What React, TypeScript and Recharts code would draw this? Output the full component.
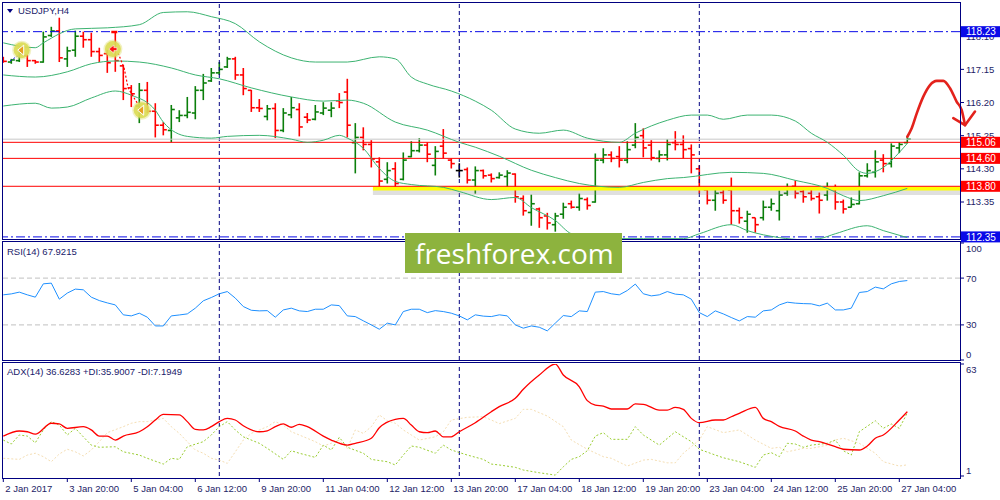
import React from "react";
import { ComposedChart, Bar, Line, XAxis, YAxis, ReferenceLine } from "recharts";

const NAVY = "#000080";
const AXIS_TEXT = "#1d1d66";
const FONT = "'Liberation Sans', Arial, sans-serif";
const UP = "#0b7f0b";
const DOWN = "#ff0000";
const FLAT = "#000000";
const BAND = "#3cb371";
const LEVEL_RED = "#ff0000";
const RANGE_BLUE = "#0a0ae8";

// bar index domain: MT4 draws 8px per H4 bar
const X_DOMAIN: [number, number] = [-0.1625, 119.5875];
const X_DOMAIN_WIDE: [number, number] = [-0.1625, 124.5875];
const PRICE_DOMAIN: [number, number] = [112.29, 119.08];
const RSI_DOMAIN: [number, number] = [0, 100];
const ADX_DOMAIN: [number, number] = [1, 63];

type Pair = [number, number];

const opens = [
  117.48, 117.36, 117.4, 117.55, 117.4, 117.36, 118.12, 118.25, 117.45, 117.7,
  118.1, 118.0, 117.66, 117.6, 117.72, 117.25, 116.62, 116.1, 116.55, 115.95,
  115.55, 115.4, 115.76, 115.83, 115.9, 116.55, 116.82, 117.05, 117.22, 117.45,
  116.99, 116.55, 116.05, 115.8, 116.03, 115.4, 115.85, 116.0, 115.78, 115.72,
  115.9, 115.98, 116.25, 116.5, 115.05, 115.2, 115.0, 114.5, 114.0, 114.3,
  114.0, 114.65, 114.82, 114.98, 114.4, 114.95, 114.55, 114.25, 114.28, 113.98,
  114.25, 114.12, 114.05, 114.08, 114.15, 113.45, 113.05, 113.15, 112.95, 112.7,
  113.0, 113.3, 113.2, 113.42, 113.35, 114.55, 114.7, 114.65, 114.55, 114.98,
  115.25, 114.98, 114.6, 114.7, 115.05, 115.0, 114.88, 114.3, 113.7, 113.4,
  113.62, 113.7, 113.1, 112.8, 112.9, 112.9, 113.2, 113.1, 113.6, 113.8,
  113.65, 113.6, 113.5, 113.55, 113.7, 113.35, 113.2, 113.3, 114.1, 114.2,
  114.55, 114.45, 114.9, 115.05,
];
const highs = [
  117.51, 117.45, 117.71, 117.57, 117.42, 118.23, 118.37, 118.63, 117.8, 118.26,
  118.23, 118.2, 117.77, 117.71, 118.23, 117.28, 116.7, 116.76, 116.79, 116.18,
  115.64, 116.13, 115.98, 116.36, 116.67, 117.02, 117.19, 117.36, 117.51, 117.51,
  117.19, 116.56, 116.3, 116.13, 116.18, 116.04, 116.36, 116.18, 115.9, 116.13,
  116.21, 116.21, 116.47, 116.88, 115.61, 115.49, 115.12, 114.63, 114.49, 114.49,
  114.77, 115.09, 115.18, 115.06, 114.95, 115.44, 114.6, 114.46, 114.34, 114.37,
  114.28, 114.17, 114.2, 114.26, 114.17, 113.54, 113.56, 113.19, 113.04, 113.04,
  113.33, 113.39, 113.59, 113.48, 114.74, 114.89, 114.8, 114.95, 115.09, 115.61,
  115.46, 115.12, 114.83, 115.15, 115.38, 115.26, 115.0, 114.4, 113.76, 113.71,
  113.76, 114.05, 113.19, 113.1, 112.9, 113.39, 113.45, 113.68, 113.88, 113.97,
  113.74, 113.76, 113.62, 113.91, 113.85, 113.42, 113.48, 114.2, 114.46, 114.83,
  114.72, 115.03, 115.06, 115.23,
];
const lows = [
  117.34, 117.31, 117.36, 117.22, 117.31, 117.34, 118.08, 117.36, 117.22, 117.51,
  117.77, 117.51, 117.36, 117.05, 117.08, 116.27, 116.07, 115.61, 115.9, 115.2,
  115.26, 115.06, 115.64, 115.75, 115.72, 116.27, 116.79, 116.99, 117.19, 116.85,
  116.41, 115.93, 115.93, 115.69, 115.18, 115.35, 115.75, 115.23, 115.61, 115.69,
  115.84, 115.78, 116.04, 115.2, 114.17, 114.83, 114.34, 113.74, 113.88, 113.76,
  113.97, 114.63, 114.77, 114.49, 114.11, 114.6, 114.31, 114.05, 113.88, 113.59,
  114.02, 113.91, 114.02, 113.76, 113.33, 112.96, 112.67, 112.61, 112.56, 112.5,
  112.87, 113.16, 113.1, 113.13, 113.33, 114.46, 114.49, 114.34, 114.46, 114.89,
  114.63, 114.54, 114.49, 114.54, 114.83, 114.6, 114.17, 113.59, 113.28, 113.1,
  113.3, 112.7, 112.73, 112.47, 112.47, 112.82, 113.1, 112.82, 113.53, 113.45,
  113.33, 113.39, 113.02, 113.39, 113.13, 113.02, 113.19, 113.28, 114.05, 114.05,
  114.2, 114.34, 114.75, 115.03,
];
const closes = [
  117.38, 117.42, 117.62, 117.4, 117.36, 118.08, 118.25, 117.48, 117.68, 118.1,
  118.0, 117.66, 117.55, 117.34, 117.4, 116.6, 116.45, 116.55, 115.95, 115.55,
  115.42, 116.0, 115.83, 115.92, 116.55, 116.76, 117.05, 117.15, 117.45, 116.99,
  116.6, 116.05, 116.03, 116.02, 115.4, 115.9, 116.05, 115.5, 115.7, 115.93,
  116.04, 116.04, 116.2, 115.55, 115.2, 115.0, 114.58, 113.95, 114.25, 113.88,
  114.55, 114.82, 114.98, 114.72, 114.8, 114.75, 114.45, 114.25, 113.98, 114.25,
  114.1, 114.02, 114.12, 114.18, 113.5, 113.1, 113.3, 112.9, 112.75, 112.95,
  113.2, 113.2, 113.45, 113.25, 114.55, 114.7, 114.6, 114.55, 114.85, 115.2,
  114.9, 114.62, 114.7, 115.0, 115.0, 114.85, 114.7, 113.75, 113.4, 113.6,
  113.4, 113.1, 112.9, 113.0, 112.7, 113.2, 113.3, 113.55, 113.75, 113.6,
  113.5, 113.45, 113.4, 113.75, 113.35, 113.15, 113.28, 114.1, 114.25, 114.5,
  114.45, 114.95, 115.0, 115.15,
];

// Bollinger bands (20), read at bar indices
const bbUpper: Pair[] = [
  [0, 117.91], [4, 117.77], [5, 117.91], [9, 118.31], [13, 118.34], [17, 118.43],
  [20, 118.78], [23, 118.8], [26, 118.66], [29, 118.46], [32, 117.94], [36, 117.48],
  [39, 117.36], [43, 117.36], [47, 117.51], [49, 117.45], [51, 116.93], [53, 116.73],
  [56, 116.53], [59, 116.24], [61, 115.98], [64, 115.44], [67, 115.32], [70, 115.41],
  [73, 115.18], [77, 115.06], [79, 115.32], [83, 115.69], [86, 115.84], [88, 115.84],
  [90, 115.72], [93, 115.84], [96, 115.84], [99, 115.67], [101, 115.32], [103, 115.06],
  [105, 114.69], [107, 114.23], [108, 114.17], [110, 114.34], [112, 114.77], [113, 115.03],
];
const bbMiddle: Pair[] = [
  [0, 116.99], [4, 116.93], [8, 117.08], [11, 117.31], [14, 117.39], [17, 117.36],
  [21, 117.19], [24, 116.99], [27, 116.88], [31, 116.62], [36, 116.36], [40, 116.24],
  [43, 116.27], [45, 116.18], [49, 115.64], [53, 115.41], [57, 115.06], [59, 114.92],
  [62, 114.66], [66, 114.26], [69, 114.05], [72, 113.88], [77, 113.77], [80, 113.91],
  [83, 114.02], [85, 114.05], [91, 114.2], [95, 114.17], [99, 113.97], [103, 113.74],
  [105, 113.53], [107, 113.39], [110, 113.53], [113, 113.74],
];
const bbLower: Pair[] = [
  [0, 116.1], [4, 116.18], [6, 116.04], [8, 116.07], [11, 116.33], [14, 116.53],
  [16, 116.41], [19, 115.98], [20, 115.64], [23, 115.23], [26, 115.18], [28, 115.23],
  [32, 115.26], [36, 115.15], [38, 115.06], [40, 115.12], [42, 115.26], [43, 115.18],
  [45, 114.89], [47, 114.31], [49, 113.94], [51, 113.85], [55, 113.77], [57, 113.65],
  [61, 113.42], [64, 113.48], [66, 113.19], [69, 112.82], [71, 112.44], [74, 112.3],
  [80, 112.3], [85, 112.3], [87, 112.44], [91, 112.7], [93, 112.53], [97, 112.33],
  [100, 112.27], [102, 112.3], [104, 112.44], [108, 112.67], [110, 112.53], [113, 112.33],
];

const rsi14 = [
  55.7, 56.5, 58.0, 55.7, 53.7, 65.1, 65.7, 52.0, 57.2, 60.6,
  60.0, 53.7, 50.8, 48.8, 47.1, 38.6, 37.7, 40.0, 36.6, 29.1,
  29.1, 37.7, 38.5, 39.4, 44.3, 50.6, 53.4, 56.6, 58.5, 52.9,
  45.7, 42.5, 42.0, 42.2, 36.6, 42.8, 44.3, 42.0, 41.4, 43.4,
  43.4, 47.1, 46.5, 37.7, 37.1, 33.5, 30.0, 26.3, 31.5, 30.0,
  41.4, 43.4, 43.4, 40.5, 42.2, 41.4, 40.0, 37.7, 34.3, 38.6,
  37.5, 37.1, 38.6, 37.7, 30.0, 27.2, 29.1, 28.0, 24.9, 31.5,
  38.0, 37.1, 42.0, 41.4, 58.0, 58.5, 56.6, 55.7, 59.4, 64.9,
  56.6, 54.8, 55.7, 58.5, 56.3, 55.7, 52.0, 40.5, 37.1, 42.0,
  39.4, 36.3, 33.4, 37.1, 36.6, 42.0, 42.8, 47.1, 49.4, 48.6,
  48.2, 48.0, 46.3, 48.6, 42.8, 42.8, 44.3, 57.7, 58.5, 62.3,
  60.8, 65.1, 67.1, 67.9,
];

const adx14: Pair[] = [
  [0, 23.1], [2, 25.9], [3, 25.5], [4, 24.2], [6, 30.2], [7, 29.8], [8, 27.4], [10, 28.3],
  [11, 26.5], [12, 23.1], [13, 23.1], [14, 20.9], [15, 23.1], [17, 25.5], [18, 28.3],
  [19, 32.0], [20, 35.1], [22, 34.8], [23, 31.1], [24, 26.8], [25, 26.5], [26, 28.3],
  [27, 31.1], [28, 32.9], [29, 32.0], [30, 28.8], [32, 25.5], [33, 26.0], [34, 28.3],
  [35, 29.8], [36, 28.0], [37, 29.6], [38, 28.3], [40, 23.1], [41, 20.9], [43, 18.1],
  [44, 19.1], [46, 21.9], [47, 27.7], [49, 32.4], [50, 32.9], [51, 29.2], [52, 25.5],
  [53, 25.0], [54, 25.9], [55, 22.7], [56, 22.7], [57, 25.5], [59, 30.5], [61, 36.6],
  [62, 39.4], [64, 44.0], [65, 49.0], [67, 56.9], [69, 63.0], [70, 56.9], [72, 50.4],
  [73, 42.7], [74, 40.3], [75, 39.7], [76, 38.1], [78, 38.1], [79, 40.9], [80, 40.7],
  [82, 37.5], [83, 37.5], [84, 39.0], [85, 37.9], [86, 32.9], [87, 30.5], [89, 32.0],
  [90, 32.0], [91, 33.8], [92, 35.7], [94, 39.0], [95, 32.9], [96, 31.1], [97, 28.5],
  [99, 25.9], [100, 23.1], [101, 20.9], [102, 20.0], [104, 17.2], [105, 15.8], [107, 15.4],
  [108, 17.6], [109, 21.9], [110, 23.7], [112, 32.0], [113, 36.63],
];
const plusDi: Pair[] = [
  [0, 20.9], [1, 18.7], [2, 23.7], [3, 23.1], [4, 19.4], [5, 26.5], [6, 31.1], [7, 29.2],
  [8, 23.7], [9, 27.4], [10, 22.7], [11, 18.1], [12, 16.9], [14, 17.2], [15, 14.4],
  [17, 12.6], [18, 10.8], [20, 7.6], [21, 10.8], [22, 10.2], [23, 17.2], [25, 20.0],
  [26, 23.7], [27, 28.3], [28, 31.1], [29, 26.5], [30, 22.7], [32, 19.1], [33, 16.3],
  [35, 10.2], [36, 15.0], [37, 13.6], [39, 11.3], [40, 18.1], [41, 15.4], [42, 22.4],
  [43, 16.9], [45, 13.6], [46, 10.2], [48, 8.9], [49, 7.1], [50, 12.6], [51, 17.6],
  [52, 16.9], [54, 13.6], [55, 18.1], [56, 15.4], [58, 12.6], [60, 10.2], [61, 7.6],
  [62, 7.1], [64, 5.8], [65, 4.3], [67, 2.8], [69, 1.5], [70, 6.1], [71, 10.2], [72, 11.7],
  [73, 15.0], [74, 23.1], [75, 25.0], [76, 21.3], [78, 21.3], [79, 28.3], [80, 23.7],
  [82, 18.1], [84, 25.5], [86, 20.0], [87, 15.8], [89, 12.6], [90, 11.1], [92, 8.9],
  [94, 5.8], [95, 12.6], [96, 13.9], [97, 11.7], [98, 19.1], [99, 18.7], [100, 16.9],
  [101, 18.1], [103, 19.1], [104, 20.9], [105, 15.0], [106, 12.6], [107, 25.5], [109, 31.6],
  [110, 27.4], [111, 29.8], [112, 27.4], [113, 35.9],
];
const minusDi: Pair[] = [
  [0, 10.8], [2, 10.2], [3, 12.6], [4, 13.6], [5, 11.7], [6, 8.9], [7, 13.2], [8, 15.8],
  [9, 14.4], [10, 12.1], [11, 15.4], [12, 20.0], [13, 25.0], [15, 28.3], [16, 30.2],
  [17, 31.1], [18, 31.1], [20, 32.9], [21, 28.3], [22, 24.6], [23, 20.0], [24, 15.4],
  [25, 13.6], [26, 10.8], [27, 9.8], [28, 8.0], [29, 14.4], [30, 20.9], [31, 24.6],
  [32, 26.5], [33, 28.3], [34, 31.1], [35, 29.2], [36, 25.5], [37, 23.7], [39, 20.0],
  [40, 17.6], [41, 19.1], [42, 20.9], [43, 16.3], [44, 26.5], [45, 24.6], [46, 28.3],
  [47, 34.8], [48, 31.6], [49, 30.2], [50, 26.5], [51, 23.7], [52, 20.9], [54, 22.7],
  [55, 25.5], [56, 32.0], [58, 33.5], [60, 33.8], [61, 32.0], [62, 30.0], [64, 32.9],
  [65, 37.9], [66, 37.9], [68, 34.2], [70, 28.3], [71, 20.9], [73, 15.8], [75, 11.7],
  [76, 10.8], [78, 6.5], [80, 9.8], [81, 10.2], [83, 8.3], [84, 8.3], [85, 13.6],
  [87, 20.9], [88, 28.3], [90, 25.0], [92, 26.5], [94, 20.9], [96, 16.3], [97, 16.9],
  [98, 14.4], [100, 16.3], [101, 16.3], [103, 18.1], [104, 20.9], [105, 21.9], [107, 19.1],
  [109, 13.6], [110, 8.9], [112, 6.5], [113, 7.19],
];

const priceTicks = [118.1, 117.15, 116.2, 115.25, 114.3, 113.35];
const levelPrices = [115.06, 114.6, 113.8];
const rangePrices = [118.23, 112.35];
const rsiTicks = [100, 70, 30, 0];
const rsiLevels = [70, 30];
const adxTicks = [63, 1];
const weekStarts = [27, 57, 87];
const timeTicks = [0, 8, 16, 24, 32, 40, 48, 56, 64, 72, 80, 88, 96, 104, 112];
const timeLabels = [
  "2 Jan 2017", "3 Jan 20:00", "5 Jan 04:00", "6 Jan 12:00", "9 Jan 20:00",
  "11 Jan 04:00", "12 Jan 12:00", "13 Jan 20:00", "17 Jan 04:00", "18 Jan 12:00",
  "19 Jan 20:00", "23 Jan 04:00", "24 Jan 12:00", "25 Jan 20:00", "27 Jan 04:00",
];

// drawn annotations (bar index, price)
const forecastPath: Pair[] = [
  [113.0, 115.22], [113.55, 115.46], [114.18, 115.89], [115.0, 116.37], [115.84, 116.7],
  [116.68, 116.82], [117.5, 116.82], [118.34, 116.61], [119.18, 116.22], [119.8, 115.98],
  [120.21, 115.55],
];
const forecastHead: Pair[] = [[118.75, 115.75], [120.21, 115.55], [121.46, 115.94]];
const tradePath: Pair[] = [[14.35, 117.62], [15.1, 117.19], [15.6, 116.62], [16.5, 116.27], [17.1, 116.07]];
const entryPath: Pair[] = [[0.84, 117.39], [2.34, 117.62]];
const stopMark: Pair[] = [[13.5, 118.22], [14.25, 118.22]];
const markers: Pair[] = [[2.3, 117.7], [13.7, 117.73], [17.3, 115.98]];
const markerKinds = ["buy", "sell", "buy"];
const yellowZoneStart = 46.2;

const rsiTitle = "RSI(14) 67.9215";
const adxTitle = "ADX(14) 36.6283 +DI:35.9007 -DI:7.1949";
const symbolTitle = "USDJPY,H4";

type Row = {
  i: number;
  open: number;
  high: number;
  low: number;
  close: number;
  rsi: number;
  upper: number | null;
  middle: number | null;
  lower: number | null;
  adx: number | null;
  pdi: number | null;
  mdi: number | null;
};

const rows: Row[] = opens.map((open, i) => ({
  i,
  open,
  high: highs[i],
  low: lows[i],
  close: closes[i],
  rsi: rsi14[i],
  upper: null,
  middle: null,
  lower: null,
  adx: null,
  pdi: null,
  mdi: null,
}));
const fill = (pairs: Pair[], key: keyof Row) => {
  for (const [i, v] of pairs) (rows[i] as any)[key] = v;
};
fill(bbUpper, "upper");
fill(bbMiddle, "middle");
fill(bbLower, "lower");
fill(adx14, "adx");
fill(plusDi, "pdi");
fill(minusDi, "mdi");

const overlayRows: Record<string, number | string>[] = [];
const pushPath = (pairs: Pair[], key: string) => {
  for (const [x, v] of pairs) overlayRows.push({ x, [key]: v });
};
pushPath(entryPath, "entry");
pushPath(tradePath, "trade");
pushPath(stopMark, "stop");
pushPath(forecastPath, "fc");
pushPath(forecastHead, "head");
markers.forEach(([x, v], k) => overlayRows.push({ x, mk: v, kind: markerKinds[k] }));

const lastClose = closes[closes.length - 1];

function OhlcBar(props: any) {
  const { x, y, width, height, payload } = props;
  if (!payload || x == null || y == null) return <g />;
  const cx = x + width / 2;
  const top = Math.min(y, y + height);
  const h = Math.abs(height);
  const span = payload.high - payload.low || 1;
  const yAt = (v: number) => top + ((payload.high - v) / span) * h;
  const color =
    payload.close > payload.open ? UP : payload.close < payload.open ? DOWN : FLAT;
  return (
    <g stroke={color} strokeWidth={1.6}>
      <line x1={cx} x2={cx} y1={top} y2={top + h} />
      <line x1={cx - 3.5} x2={cx} y1={yAt(payload.open)} y2={yAt(payload.open)} />
      <line x1={cx} x2={cx + 3.5} y1={yAt(payload.close)} y2={yAt(payload.close)} />
    </g>
  );
}

function PriceTick(props: any) {
  const { x, y, payload } = props;
  const v = payload.value as number;
  const red = levelPrices.includes(v);
  const blue = rangePrices.includes(v);
  const label = v.toFixed(2);
  if (red || blue) {
    return (
      <g>
        <rect x={x - 5} y={y - 5.5} width={39} height={11} fill={red ? LEVEL_RED : RANGE_BLUE} />
        <text x={x} y={y} dy="0.36em" fill="#ffffff" fontSize={10} fontFamily={FONT}>
          {label}
        </text>
      </g>
    );
  }
  return (
    <text x={x} y={y} dy="0.36em" fill={AXIS_TEXT} fontSize={9.5} fontFamily={FONT}>
      {label}
    </text>
  );
}

function EdgeTick(props: any) {
  const { x, y, payload, lo, hi } = props;
  const v = payload.value as number;
  const shift = v === hi ? 5.5 : v === lo ? -5 : 0;
  return (
    <text x={x} y={y + shift} dy="0.36em" fill={AXIS_TEXT} fontSize={9.5} fontFamily={FONT}>
      {v}
    </text>
  );
}

function TimeTick(props: any) {
  const { x, y, payload } = props;
  const k = timeTicks.indexOf(payload.value);
  return (
    <g>
      <line x1={x} x2={x} y1={y + 2} y2={y + 6} stroke={NAVY} />
      <text x={x + 2} y={y + 15.5} fill={AXIS_TEXT} fontSize={9.5} fontFamily={FONT}>
        {timeLabels[k]}
      </text>
    </g>
  );
}

function MarkerDot(props: any) {
  const { cx, cy, payload } = props;
  if (cx == null || cy == null || payload == null || payload.mk == null) return <g />;
  const sell = payload.kind === "sell";
  return (
    <g>
      <circle cx={cx} cy={cy} r={9.5} fill="#d6d64c" fillOpacity={0.35} />
      <circle cx={cx} cy={cy} r={8} fill="#dcdc55" fillOpacity={0.9} />
      {sell ? (
        <path
          d={`M${cx - 4} ${cy} L${cx + 1} ${cy - 4} L${cx + 1} ${cy - 1.5} L${cx + 4} ${cy - 1.5} L${cx + 4} ${cy + 1.5} L${cx + 1} ${cy + 1.5} L${cx + 1} ${cy + 4} Z`}
          fill="#ff1010"
          stroke="#ffffff"
          strokeWidth={0.6}
        />
      ) : (
        <path
          d={`M${cx - 4} ${cy} L${cx + 2} ${cy - 5} L${cx + 2} ${cy + 5} Z`}
          fill="#e8a020"
          stroke="#ffffff"
          strokeWidth={1}
        />
      )}
    </g>
  );
}

const separators = () =>
  weekStarts.map((w) => (
    <ReferenceLine key={`sep-${w}`} x={w} stroke={NAVY} strokeDasharray="4 3" strokeWidth={1} />
  ));

const frame = (top: number, height: number) => ({
  position: "absolute" as const,
  left: 2,
  top,
  width: 959,
  height,
  border: `1px solid ${NAVY}`,
  boxSizing: "border-box" as const,
  pointerEvents: "none" as const,
});

const label = (left: number, top: number) => ({
  position: "absolute" as const,
  left,
  top,
  fontFamily: FONT,
  fontSize: 9.5,
  lineHeight: "11px",
  color: "#20206a",
  whiteSpace: "nowrap" as const,
});

export default function App() {
  return (
    <div
      style={{
        position: "absolute",
        left: 0,
        top: 0,
        width: 1000,
        height: 500,
        background: "#ffffff",
        overflow: "hidden",
      }}
    >
      {/* price window; svg is a little taller so the lowest price box is not cut */}
      <div style={{ position: "absolute", left: 0, top: 0 }}>
        <ComposedChart width={1000} height={245} data={rows} margin={{ top: 2, right: 0, bottom: 6, left: 2 }}>
          <XAxis type="number" dataKey="i" domain={X_DOMAIN} allowDataOverflow hide />
          <YAxis
            orientation="right"
            width={40}
            domain={PRICE_DOMAIN}
            allowDataOverflow
            ticks={[...priceTicks, ...rangePrices, ...levelPrices]}
            interval={0}
            tick={(p: any) => <PriceTick {...p} />}
            tickSize={4}
            tickMargin={2}
            tickLine={{ stroke: NAVY }}
            axisLine={false}
          />
          {separators()}
          <ReferenceLine y={lastClose} stroke="#c8c8c8" strokeWidth={1} />
          {rangePrices.map((p) => (
            <ReferenceLine key={`r-${p}`} y={p} stroke={RANGE_BLUE} strokeDasharray="9 3 2 3" strokeWidth={1} />
          ))}
          <ReferenceLine
            segment={[{ x: yellowZoneStart, y: 113.64 }, { x: X_DOMAIN[1], y: 113.64 }]}
            stroke="#808080"
            strokeOpacity={0.25}
            strokeWidth={6}
          />
          <ReferenceLine
            segment={[{ x: yellowZoneStart, y: 113.74 }, { x: X_DOMAIN[1], y: 113.74 }]}
            stroke="#ffff00"
            strokeWidth={4}
          />
          {levelPrices.map((p) => (
            <ReferenceLine key={`l-${p}`} y={p} stroke={LEVEL_RED} strokeWidth={1} />
          ))}
          <Line type="monotone" dataKey="upper" stroke={BAND} strokeWidth={1} dot={false} activeDot={false} connectNulls isAnimationActive={false} />
          <Line type="monotone" dataKey="middle" stroke={BAND} strokeWidth={1} dot={false} activeDot={false} connectNulls isAnimationActive={false} />
          <Line type="monotone" dataKey="lower" stroke={BAND} strokeWidth={1} dot={false} activeDot={false} connectNulls isAnimationActive={false} />
          <Bar
            dataKey={(d: Row) => [d.low, d.high]}
            barSize={6}
            shape={(p: any) => <OhlcBar {...p} />}
            isAnimationActive={false}
          />
        </ComposedChart>
      </div>

      {/* hand-drawn annotations, allowed to run over the price scale */}
      <div style={{ position: "absolute", left: 0, top: 0 }}>
        <ComposedChart width={1000} height={239} data={overlayRows} margin={{ top: 2, right: 0, bottom: 0, left: 2 }}>
          <XAxis type="number" dataKey="x" domain={X_DOMAIN_WIDE} allowDataOverflow hide />
          <YAxis domain={PRICE_DOMAIN} allowDataOverflow hide />
          <Line type="linear" dataKey="entry" stroke="#2020e0" strokeDasharray="2 2" strokeWidth={1} dot={false} activeDot={false} connectNulls isAnimationActive={false} />
          <Line type="linear" dataKey="trade" stroke="#ff0000" strokeDasharray="2 2" strokeWidth={1.2} dot={false} activeDot={false} connectNulls isAnimationActive={false} />
          <Line type="linear" dataKey="stop" stroke="#ff0000" strokeWidth={2.5} dot={false} activeDot={false} connectNulls isAnimationActive={false} />
          <Line type="linear" dataKey="mk" stroke="none" dot={(p: any) => <MarkerDot key={`m-${p.index}`} {...p} />} activeDot={false} isAnimationActive={false} />
          <Line type="monotone" dataKey="fc" stroke="#e3221c" strokeWidth={2.6} strokeLinecap="round" strokeLinejoin="round" dot={false} activeDot={false} connectNulls isAnimationActive={false} />
          <Line type="linear" dataKey="head" stroke="#e3221c" strokeWidth={2.6} strokeLinecap="round" strokeLinejoin="round" dot={false} activeDot={false} connectNulls isAnimationActive={false} />
        </ComposedChart>
      </div>

      {/* RSI window */}
      <div style={{ position: "absolute", left: 0, top: 241 }}>
        <ComposedChart width={1000} height={120} data={rows} margin={{ top: 2, right: 0, bottom: 1, left: 2 }}>
          <XAxis type="number" dataKey="i" domain={X_DOMAIN} allowDataOverflow hide />
          <YAxis
            orientation="right"
            width={40}
            domain={RSI_DOMAIN}
            allowDataOverflow
            ticks={rsiTicks}
            interval={0}
            tick={(p: any) => <EdgeTick {...p} lo={RSI_DOMAIN[0]} hi={RSI_DOMAIN[1]} />}
            tickSize={4}
            tickMargin={2}
            tickLine={{ stroke: NAVY }}
            axisLine={false}
          />
          {rsiLevels.map((l) => (
            <ReferenceLine key={`rl-${l}`} y={l} stroke="#c0c0c0" strokeDasharray="5 3" strokeWidth={1} />
          ))}
          {separators()}
          <Line type="linear" dataKey="rsi" stroke="#1e90ff" strokeWidth={1} dot={false} activeDot={false} isAnimationActive={false} />
        </ComposedChart>
      </div>

      {/* ADX window */}
      <div style={{ position: "absolute", left: 0, top: 362 }}>
        <ComposedChart width={1000} height={138} data={rows} margin={{ top: 2, right: 0, bottom: 0, left: 2 }}>
          <XAxis
            type="number"
            dataKey="i"
            domain={X_DOMAIN}
            allowDataOverflow
            ticks={timeTicks}
            interval={0}
            height={24}
            tick={(p: any) => <TimeTick {...p} />}
            tickLine={false}
            axisLine={false}
            tickSize={0}
            tickMargin={0}
          />
          <YAxis
            orientation="right"
            width={40}
            domain={ADX_DOMAIN}
            allowDataOverflow
            ticks={adxTicks}
            interval={0}
            tick={(p: any) => <EdgeTick {...p} lo={ADX_DOMAIN[0]} hi={ADX_DOMAIN[1]} />}
            tickSize={4}
            tickMargin={2}
            tickLine={{ stroke: NAVY }}
            axisLine={false}
          />
          {separators()}
          <Line type="linear" dataKey="mdi" stroke="#f5deb3" strokeDasharray="2 2" strokeWidth={1} dot={false} activeDot={false} connectNulls isAnimationActive={false} />
          <Line type="linear" dataKey="pdi" stroke="#9acd32" strokeDasharray="2 2" strokeWidth={1} dot={false} activeDot={false} connectNulls isAnimationActive={false} />
          <Line type="monotone" dataKey="adx" stroke="#ff0000" strokeWidth={1.3} dot={false} activeDot={false} connectNulls isAnimationActive={false} />
        </ComposedChart>
      </div>

      <div style={frame(2, 238)} />
      <div style={frame(241, 120)} />
      <div style={frame(362, 117)} />

      <div
        style={{
          position: "absolute",
          left: 7,
          top: 9,
          width: 0,
          height: 0,
          borderLeft: "3px solid transparent",
          borderRight: "3px solid transparent",
          borderTop: `4px solid ${NAVY}`,
        }}
      />
      <div style={label(18, 5)}>{symbolTitle}</div>
      <div style={label(7, 246)}>{rsiTitle}</div>
      <div style={label(7, 366)}>{adxTitle}</div>

      <div
        style={{
          position: "absolute",
          left: 405,
          top: 233,
          width: 217,
          height: 40,
          background: "#8db33e",
          color: "#ffffff",
          fontFamily: "'Open Sans', sans-serif",
          fontSize: 28,
          lineHeight: "40px",
          paddingLeft: 10,
          boxSizing: "border-box",
          whiteSpace: "nowrap",
        }}
      >
        freshforex.com
      </div>
    </div>
  );
}
